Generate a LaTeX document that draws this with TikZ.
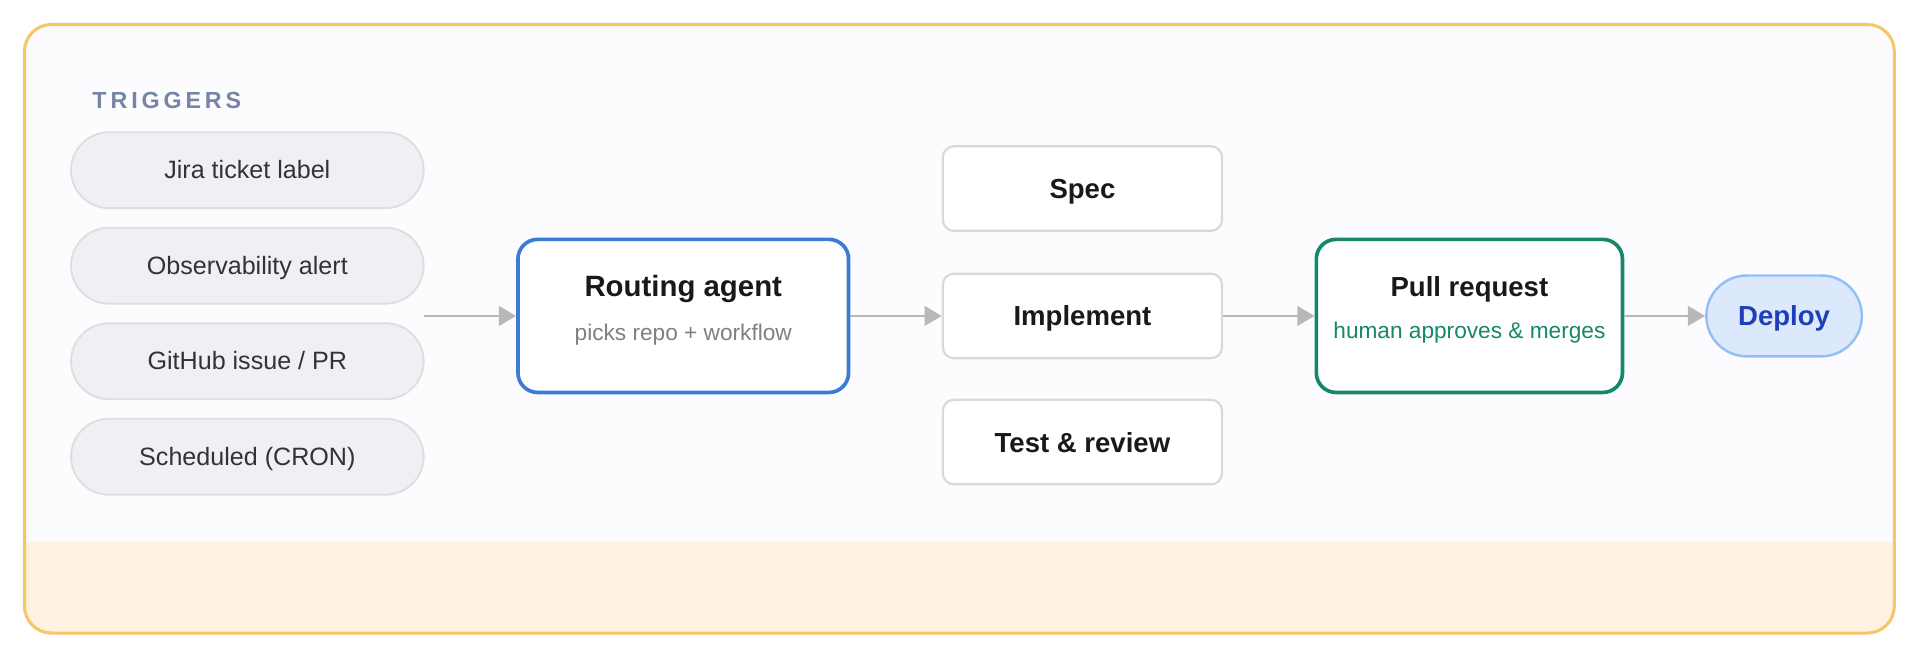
\documentclass[tikz,border=0pt]{standalone}
\usepackage{fontspec}
\setmainfont{Liberation Sans}
\usetikzlibrary{arrows.meta}
\definecolor{pillbg}{HTML}{F0EFF4}
\definecolor{frame}{HTML}{F5C66A}
\definecolor{band}{HTML}{FFF3DF}
\definecolor{blueb}{HTML}{3A7BD5}
\definecolor{greenb}{HTML}{16876A}
\definecolor{slate}{HTML}{7585A3}
\definecolor{depfill}{HTML}{DCE9FD}
\definecolor{depdraw}{HTML}{93BFF5}
\definecolor{deptext}{HTML}{1F3FB8}
\begin{document}
\begin{tikzpicture}[x=1pt,y=-1pt,
  pill/.style={draw=black!13,line width=1.5pt,fill=pillbg,rounded corners=31pt,minimum width=288pt,minimum height=62pt,font=\fontsize{20.5}{22}\selectfont,text=black!80,text depth=1pt},
  stagebox/.style={draw=black!15,line width=1.8pt,fill=white,rounded corners=9pt,minimum width=228pt,minimum height=69pt,font=\bfseries\fontsize{22.5}{24}\selectfont,text=black!90,text depth=0pt},
  big/.style={line width=3pt,fill=white,rounded corners=16pt,minimum width=270pt,minimum height=125pt},
  arr/.style={draw=black!28,line width=2pt,-{Triangle[length=14pt,width=16pt]}}]
\useasboundingbox (0,0) rectangle (1568,537);
\fill[white] (0,0) rectangle (1568,537);
\begin{scope}
\clip[rounded corners=22pt] (20,20) rectangle (1547,517);
\fill[white!99!blue] (20,20) rectangle (1547,517);
\fill[band] (20,443) rectangle (1547,517);
\end{scope}
\draw[frame,line width=2.5pt,rounded corners=22pt] (20,20) rectangle (1547,517);
\node[anchor=west,text=slate,font=\bfseries\fontsize{19}{20}\selectfont] (trig) at (72,82) {T\,R\,I\,G\,G\,E\,R\,S};
\node[pill] (p1) at (202,139) {Jira ticket label};
\node[pill] (p2) at (202,217) {Observability alert};
\node[pill] (p3) at (202,295) {GitHub issue / PR};
\node[pill] (p4) at (202,373) {Scheduled (CRON)};
\node[big,draw=blueb] (ra) at (558,258) {};
\node[font=\bfseries\fontsize{24}{26}\selectfont,text=black!90] (rat) at (558,236) {Routing agent};
\node[font=\fontsize{18.5}{20}\selectfont,text=black!50] (ras) at (558,273) {picks repo + workflow};
\node[stagebox] (s1) at (884,154) {Spec};
\node[stagebox] (s2) at (884,258) {Implement};
\node[stagebox] (s3) at (884,361) {Test \& review};
\node[big,draw=greenb,minimum width=250pt] (pr) at (1200,258) {};
\node[font=\bfseries\fontsize{22.5}{25}\selectfont,text=black!90] (prt) at (1200,236) {Pull request};
\node[font=\fontsize{18.5}{20}\selectfont,text=greenb] (prs) at (1200,272) {human approves \& merges};
\node[draw=depdraw,line width=2pt,fill=depfill,rounded corners=33pt,minimum width=127pt,minimum height=66pt,font=\bfseries\fontsize{22.5}{25}\selectfont,text=deptext,text depth=0pt] (dep) at (1457,258) {Deploy};
\coordinate (tin) at (346,258);
\draw[arr] (tin) -- (ra.west);
\draw[arr] (ra.east) -- (s2.west);
\draw[arr] (s2.east) -- (pr.west);
\draw[arr] (pr.east) -- (dep.west);
\end{tikzpicture}
\end{document}
